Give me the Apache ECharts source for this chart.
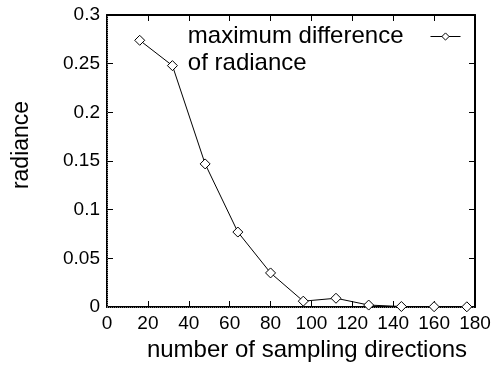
<!DOCTYPE html>
<html>
<head>
<meta charset="utf-8">
<script src="https://cdn.jsdelivr.net/npm/echarts@6/dist/echarts.min.js"></script>
<style>html,body{margin:0;padding:0;background:#fff}#c{width:495px;height:367px}</style>
</head>
<body>
<div id="c"></div>
<script>
var xValues = [16, 32, 48, 64, 80, 96, 112, 128, 144, 160, 176];
var yValues = [0.274, 0.248, 0.147, 0.077, 0.035, 0.006, 0.009, 0.002, 0.0005, 0.0003, 0.0002];
var seriesName = 'maximum difference of radiance';
var xTitle = 'number of sampling directions';
var yTitle = 'radiance';

var FONT = '"Liberation Sans", Arial, Helvetica, sans-serif';
var chart = echarts.init(document.getElementById('c'), null, {renderer: 'canvas'});
var axisLineStyle = {color: '#000', width: 2};
var tickStyle = {show: true, inside: true, length: 6, lineStyle: {color: '#000', width: 1}};
var pts = xValues.map(function (x, i) { return [x, yValues[i]]; });

chart.setOption({
  backgroundColor: '#fff',
  animation: false,
  grid: {left: 107, right: 20, top: 15, bottom: 59, containLabel: false},
  legend: {
    right: 34, top: -4, padding: 0,
    align: 'right',
    itemWidth: 30, itemHeight: 9,
    data: [seriesName],
    lineStyle: {color: '#000', width: 1},
    itemStyle: {color: '#fff', borderColor: '#000', borderWidth: 1},
    formatter: function () { return '{a|maximum difference}\n{a|of radiance}'; },
    textStyle: {
      fontFamily: FONT, fontSize: 24, color: '#000', lineHeight: 27,
      padding: [27, 22, 0, 0],
      rich: {a: {fontFamily: FONT, fontSize: 24, color: '#000', lineHeight: 27, align: 'left'}}
    }
  },
  xAxis: [{
    type: 'value', min: 0, max: 180, interval: 20, position: 'bottom',
    name: xTitle, nameLocation: 'middle', nameGap: 31,
    nameTextStyle: {fontFamily: FONT, fontSize: 24, color: '#000', padding: [0, 0, 0, 32]},
    axisLine: {show: true, onZero: false, lineStyle: axisLineStyle},
    axisTick: tickStyle,
    axisLabel: {fontFamily: FONT, fontSize: 19, color: '#000', margin: 7},
    splitLine: {show: false}
  }, {
    type: 'value', min: 0, max: 180, interval: 20, position: 'top',
    axisLine: {show: true, onZero: false, lineStyle: axisLineStyle},
    axisTick: tickStyle, axisLabel: {show: false}, splitLine: {show: false}
  }],
  yAxis: [{
    type: 'value', min: 0, max: 0.3, interval: 0.05, position: 'left',
    name: yTitle, nameLocation: 'middle', nameGap: 74, nameRotate: 90,
    nameTextStyle: {fontFamily: FONT, fontSize: 23, color: '#000', padding: [0, 0, 0, 32]},
    axisLine: {show: true, onZero: false, lineStyle: axisLineStyle},
    axisTick: tickStyle,
    axisLabel: {fontFamily: FONT, fontSize: 19, color: '#000', margin: 7},
    splitLine: {show: false}
  }, {
    type: 'value', min: 0, max: 0.3, interval: 0.05, position: 'right',
    axisLine: {show: true, onZero: false, lineStyle: axisLineStyle},
    axisTick: tickStyle, axisLabel: {show: false}, splitLine: {show: false}
  }],
  series: [{
    name: seriesName,
    type: 'line',
    xAxisIndex: 0, yAxisIndex: 0,
    data: pts,
    symbol: 'diamond',
    symbolSize: 10,
    showAllSymbol: true,
    lineStyle: {color: '#000', width: 1},
    itemStyle: {color: '#fff', borderColor: '#000', borderWidth: 1},
    z: 5,
    markLine: {
      silent: true, symbol: 'none', label: {show: false},
      lineStyle: {color: '#777', type: 'dotted', width: 1},
      data: [{yAxis: 0}, {xAxis: 0}]
    }
  }]
});
</script>
</body>
</html>
